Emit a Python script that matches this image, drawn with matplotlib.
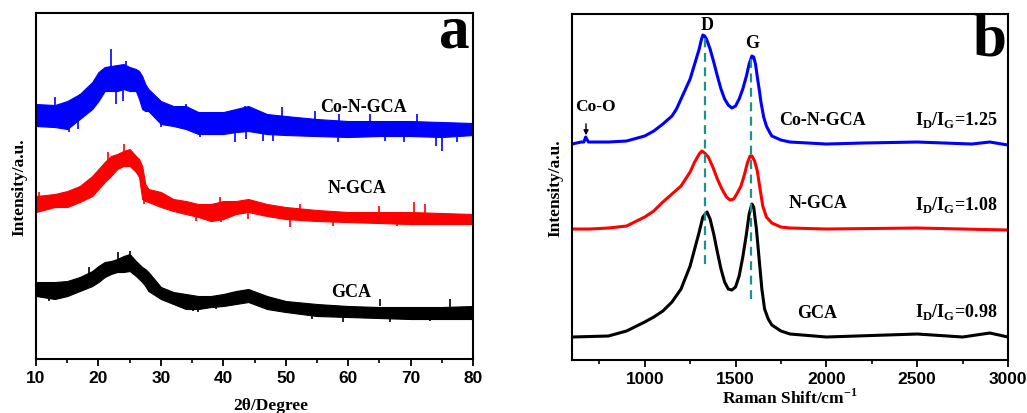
import numpy as np
import matplotlib.pyplot as plt
from matplotlib.ticker import MultipleLocator

# ---------------- XRD (panel a), intensity in a.u. ----------------
xrd_2theta = [10, 13, 15, 17, 19, 20, 21, 22, 23, 24, 25, 26, 26.5, 27, 27.5, 28,
              30, 32, 34, 36, 38, 40, 42, 44, 47, 50, 55, 60, 65, 70, 75, 80]

xrd_co_hi = [255, 254, 258, 265, 277, 287, 292, 293, 294, 295, 292, 290, 288, 283, 275, 270,
             258, 253, 253, 247, 247, 247, 250, 253, 245, 243, 240, 238, 238, 238, 237, 236]
xrd_co_lo = [233, 232, 230, 240, 250, 258, 268, 268, 268, 270, 268, 268, 260, 250, 248, 248,
             235, 233, 230, 225, 225, 225, 227, 228, 225, 224, 223, 222, 223, 223, 222, 224]
xrd_n_hi = [163, 165, 168, 173, 183, 190, 197, 203, 205, 208, 210, 203, 200, 193, 175, 170,
            167, 160, 158, 155, 155, 158, 158, 160, 155, 152, 149, 147, 147, 147, 146, 145]
xrd_n_lo = [147, 152, 152, 157, 163, 170, 177, 183, 190, 193, 193, 187, 182, 160, 158, 157,
            152, 148, 145, 142, 138, 140, 145, 147, 143, 140, 138, 137, 136, 135, 135, 135]
xrd_g_hi = [77, 77, 78, 82, 88, 93, 97, 98, 100, 103, 105, 98, 95, 92, 90, 87,
            72, 67, 65, 63, 63, 65, 68, 70, 63, 58, 55, 53, 52, 52, 52, 53]
xrd_g_lo = [63, 60, 63, 68, 73, 77, 82, 85, 87, 87, 88, 83, 80, 77, 73, 68,
            60, 55, 50, 50, 52, 53, 55, 57, 50, 47, 43, 42, 41, 40, 40, 40]

# noise spikes: (2theta, from, to)
spikes_co = [(22.0, 280, 310), (24.4, 285, 298), (13.0, 245, 262), (17.0, 255, 265),
             (34.0, 245, 255), (43.4, 245, 253), (49.4, 240, 252), (54.7, 236, 248),
             (58.5, 236, 245), (63.5, 236, 245), (71.0, 236, 245),
             (15.3, 240, 227), (16.7, 245, 230), (22.8, 275, 255), (24.0, 280, 258),
             (30.0, 245, 232), (36.2, 235, 222), (41.8, 235, 217), (43.6, 240, 220),
             (46.4, 232, 218), (48.0, 232, 218), (58.4, 230, 217), (65.9, 230, 218),
             (69.0, 230, 217), (74.0, 230, 213), (75.0, 230, 208), (77.4, 230, 217)]
spikes_n = [(10.5, 160, 167), (21.5, 195, 207), (24.1, 205, 215), (39.4, 150, 162),
            (27.3, 165, 155), (35.6, 145, 138), (39.6, 145, 137), (44.0, 150, 140),
            (52.3, 148, 155), (64.9, 145, 153), (70.5, 145, 157), (72.3, 145, 155),
            (50.7, 140, 132), (57.6, 140, 133), (67.8, 138, 133)]
spikes_g = [(18.5, 85, 92), (23.1, 98, 107), (25.0, 100, 108), (12.1, 63, 58),
            (35.1, 55, 48), (35.9, 55, 47), (38.8, 55, 50), (54.2, 46, 40),
            (59.2, 45, 37), (65.1, 53, 60), (66.7, 45, 37), (73.1, 45, 38), (76.3, 52, 60)]

# ---------------- Raman (panel b), intensity in a.u. ----------------
ram_co_x = [600, 650, 665, 675, 690, 700, 800, 900, 1000, 1050, 1100, 1150, 1175, 1200, 1225,
            1250, 1275, 1300, 1310, 1320, 1330, 1340, 1360, 1380, 1400, 1420, 1440, 1460, 1480,
            1500, 1520, 1540, 1560, 1575, 1590, 1600, 1610, 1620, 1630, 1640, 1655, 1670, 1690,
            1700, 1750, 1800, 2000, 2200, 2500, 2800, 2900, 3000]
ram_co_y = [216, 218, 218, 223, 218, 218, 218, 219, 224, 229, 236, 244, 251, 261, 271,
            281, 296, 311, 319, 325, 324, 321, 311, 298, 284, 271, 261, 255, 252,
            254, 261, 271, 284, 296, 304, 303, 296, 283, 271, 258, 243, 234, 227,
            224, 220, 218, 216, 217, 218, 216, 218, 215]
ram_n_x = [600, 700, 800, 900, 1000, 1050, 1100, 1150, 1200, 1250, 1275, 1300, 1315, 1330, 1350,
           1375, 1400, 1425, 1450, 1470, 1490, 1510, 1530, 1550, 1565, 1580, 1590, 1605, 1620,
           1635, 1650, 1670, 1700, 1750, 1800, 2000, 2500, 3000]
ram_n_y = [131, 131, 132, 134, 143, 149, 158, 166, 174, 188, 198, 206, 209, 207, 203,
           193, 181, 171, 163, 160, 161, 167, 174, 186, 197, 204, 204, 199, 189,
           171, 154, 143, 137, 133, 132, 131, 132, 130]
ram_g_x = [600, 800, 900, 1000, 1050, 1100, 1150, 1200, 1250, 1275, 1300, 1320, 1343, 1360, 1380,
           1400, 1420, 1440, 1460, 1480, 1500, 1520, 1540, 1560, 1575, 1590, 1600, 1615, 1630,
           1645, 1660, 1680, 1700, 1750, 1800, 2000, 2500, 2750, 2900, 3000]
ram_g_y = [23, 24, 29, 38, 43, 49, 58, 71, 94, 111, 128, 143, 148, 141, 126,
           108, 91, 78, 71, 70, 73, 84, 103, 126, 146, 156, 153, 131, 101,
           71, 51, 41, 35, 29, 26, 23, 26, 23, 27, 23]

d_band, g_band = 1332, 1585
d_line = (96, 323)
g_line = (61, 303)

serif = {'family': 'Liberation Serif', 'weight': 'bold'}

fig = plt.figure(figsize=(10.27, 4.14), dpi=100)
ax1 = fig.add_axes([0.0351, 0.1304, 0.4255, 0.8357])
ax2 = fig.add_axes([0.557, 0.128, 0.4245, 0.8357])

# panel a
for hi, lo, sp, c in [(xrd_co_hi, xrd_co_lo, spikes_co, 'blue'),
                      (xrd_n_hi, xrd_n_lo, spikes_n, 'red'),
                      (xrd_g_hi, xrd_g_lo, spikes_g, 'black')]:
    ax1.fill_between(xrd_2theta, lo, hi, color=c, lw=0.8)
    ax1.vlines([s[0] for s in sp], [s[1] for s in sp], [s[2] for s in sp], color=c, lw=1.2)

ax1.set_xlim(10, 80)
ax1.set_ylim(0, 346)
ax1.xaxis.set_major_locator(MultipleLocator(10))
ax1.xaxis.set_minor_locator(MultipleLocator(5))
ax1.text(62.5, 253, 'Co-N-GCA', ha='center', va='center', fontsize=13, **serif)
ax1.text(61.4, 172, 'N-GCA', ha='center', va='center', fontsize=13, **serif)
ax1.text(60.5, 68, 'GCA', ha='center', va='center', fontsize=13, **serif)
ax1.text(0.993, 0.902, 'a', transform=ax1.transAxes, ha='right', va='baseline',
         fontsize=44, **serif)
ax1.set_ylabel('Intensity/a.u.', fontsize=12.5, labelpad=6, **serif)
fig.text(271 / 1027, 1 - 406 / 414, '2θ/Degree', ha='center', va='center',
         fontsize=12.5, **serif)

# panel b
ax2.plot(ram_co_x, ram_co_y, color='blue', lw=2.2)
ax2.plot(ram_n_x, ram_n_y, color='red', lw=2.2)
ax2.plot(ram_g_x, ram_g_y, color='black', lw=2.2)
ax2.vlines([d_band], d_line[0], d_line[1], color='#20908a', lw=1.6, linestyles=(0, (4, 2.5)))
ax2.vlines([g_band], g_line[0], g_line[1], color='#20908a', lw=1.6, linestyles=(0, (4, 2.5)))

ax2.set_xlim(600, 3000)
ax2.set_ylim(0, 346)
ax2.xaxis.set_major_locator(MultipleLocator(500))
ax2.xaxis.set_minor_locator(MultipleLocator(250))
ax2.text(1345, 336, 'D', ha='center', va='center', fontsize=13, clip_on=False, **serif)
ax2.text(1590, 318, 'G', ha='center', va='center', fontsize=13, **serif)
ax2.text(731, 254, 'Co-O', ha='center', va='center', fontsize=12.5, **serif)
ax2.annotate('', xy=(677, 222), xytext=(677, 239),
             arrowprops=dict(arrowstyle='-|>', color='black', lw=1, mutation_scale=7))
ax2.text(1976, 241, 'Co-N-GCA', ha='center', va='center', fontsize=13, **serif)
ax2.text(1953, 158, 'N-GCA', ha='center', va='center', fontsize=13, **serif)
ax2.text(1947, 48, 'GCA', ha='center', va='center', fontsize=13, **serif)
ax2.text(2713, 241, r'I$_\mathregular{D}$/I$_\mathregular{G}$=1.25', ha='center', va='center',
         fontsize=13, **serif)
ax2.text(2713, 156, r'I$_\mathregular{D}$/I$_\mathregular{G}$=1.08', ha='center', va='center',
         fontsize=13, **serif)
ax2.text(2713, 49, r'I$_\mathregular{D}$/I$_\mathregular{G}$=0.98', ha='center', va='center',
         fontsize=13, **serif)
ax2.text(0.997, 0.884, 'b', transform=ax2.transAxes, ha='right', va='baseline',
         fontsize=44, clip_on=False, **serif)
ax2.set_ylabel('Intensity/a.u.', fontsize=12.5, labelpad=6, **serif)
ax2.set_xlabel(r'Raman Shift/cm$^\mathregular{-1}$', fontsize=12.5, labelpad=1, **serif)

for ax in (ax1, ax2):
    ax.set_yticks([])
    for s in ax.spines.values():
        s.set_linewidth(1.5)
    ax.tick_params(axis='x', which='major', direction='out', length=5, width=1.3, pad=3)
    ax.tick_params(axis='x', which='minor', direction='out', length=3, width=1.2)
    for lab in ax.get_xticklabels():
        lab.set_fontfamily('Liberation Sans')
        lab.set_fontweight('bold')
        lab.set_fontsize(12.5)

fig.savefig('out.png', dpi=100)
